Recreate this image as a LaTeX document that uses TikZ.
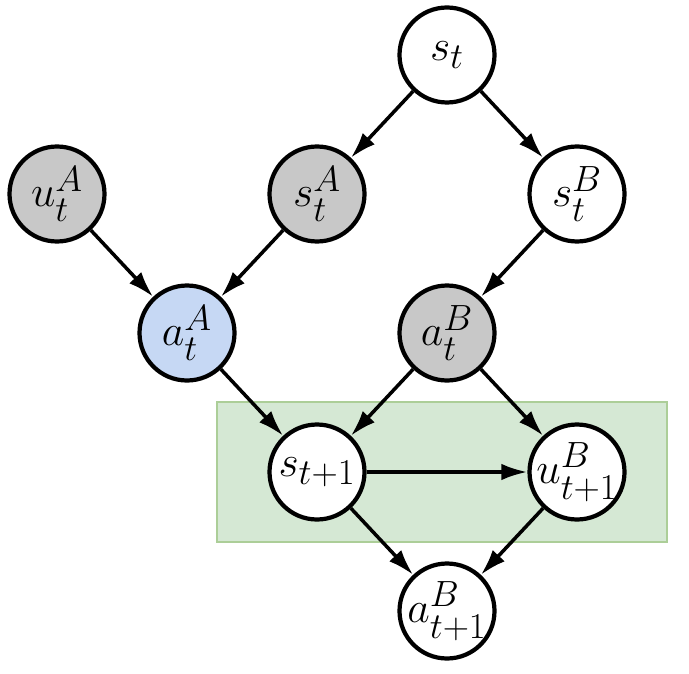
\documentclass[tikz,border=0pt]{standalone}
\usepackage{amsmath, amssymb}
\usepackage{tikz}
\usetikzlibrary{positioning}
\usetikzlibrary{arrows.meta}
\usepackage{xcolor}
\definecolor{obsgray}{RGB}{200,200,200}
\definecolor{actblue}{RGB}{198,216,244}
\definecolor{boxgreen}{RGB}{213,232,212}
\definecolor{boxedge}{RGB}{172,206,152}

\begin{document}
\begin{tikzpicture}[node distance=2.78cm and 2.6cm, on grid,
    var/.style={draw, circle, line width=2.4pt, fill=white, minimum size=1.9cm, inner sep=0pt,
      font=\fontsize{29.5}{35}\selectfont},
    obs/.style={var, fill=obsgray},
    act/.style={var, fill=actblue},
    arrow/.style={-{Latex[length=5.2mm, width=3.3mm]}, line width=2pt}]
  \useasboundingbox (0,0) rectangle (13.78,-13.46);
  % green box behind the t+1 nodes
  \fill[boxgreen, draw=boxedge, line width=0.6pt] (4.34,-8.04) rectangle (13.34,-10.84);
  \node (st) [var] at (8.94,-1.10) {$s_t$};
  \node (stA) [obs, below left=of st] {$s_t^A$};
  \node (stB) [var, below right=of st] {$s_t^B$};
  \node (utA) [obs, left=5.2cm of stA] {$u_t^A$};
  \node (atA) [act, below left=of stA] {$a_t^A$};
  \node (atB) [obs, below left=of stB] {$a_t^B$};
  \node (st1) [var, below right=of atA] {$s_{t+1}$};
  \node (ut1B) [var, below right=of atB] {\makebox[0pt]{$u_{t+1}^B$}};
  \node (at1B) [var, below right=of st1] {\makebox[0pt]{$a_{t+1}^B$}};
  \draw[arrow] (st) -- (stA);
  \draw[arrow] (st) -- (stB);
  \draw[arrow] (utA) -- (atA);
  \draw[arrow] (stA) -- (atA);
  \draw[arrow] (stB) -- (atB);
  \draw[arrow] (atA) -- (st1);
  \draw[arrow] (atB) -- (st1);
  \draw[arrow] (atB) -- (ut1B);
  \draw[arrow] (st1) -- (ut1B);
  \draw[arrow] (st1) -- (at1B);
  \draw[arrow] (ut1B) -- (at1B);
\end{tikzpicture}
\end{document}
